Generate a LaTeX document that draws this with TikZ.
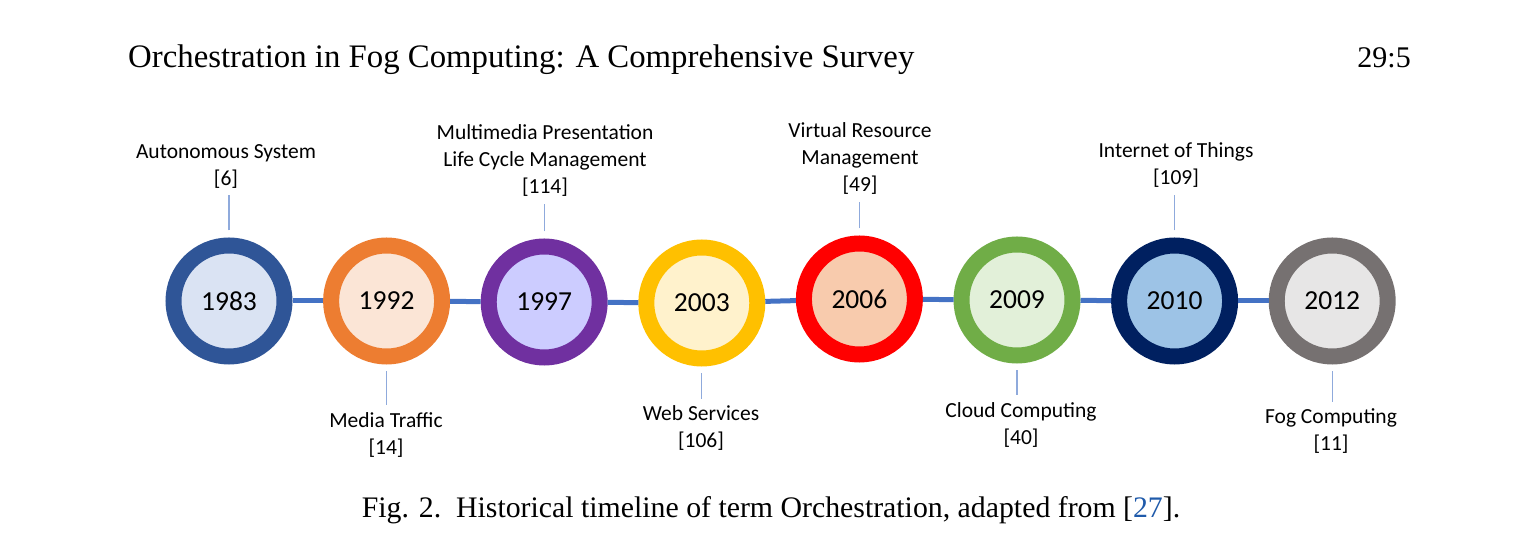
\documentclass[tikz,border=0pt]{standalone}
\usepackage{fontspec}
\setmainfont{Liberation Serif}
\newfontfamily\calfont{Carlito}
\usepackage{xcolor}
\usetikzlibrary{positioning,calc}
\definecolor{ringblue}{RGB}{47,85,151}
\definecolor{discblue}{RGB}{218,227,243}
\definecolor{ringorange}{RGB}{237,125,49}
\definecolor{discorange}{RGB}{251,229,214}
\definecolor{ringpurple}{RGB}{112,48,160}
\definecolor{discpurple}{RGB}{204,204,255}
\definecolor{ringgold}{RGB}{255,192,0}
\definecolor{discgold}{RGB}{255,242,204}
\definecolor{ringred}{RGB}{255,0,0}
\definecolor{discred}{RGB}{248,203,173}
\definecolor{ringgreen}{RGB}{112,173,71}
\definecolor{discgreen}{RGB}{226,240,217}
\definecolor{ringnavy}{RGB}{0,32,96}
\definecolor{discnavy}{RGB}{157,195,230}
\definecolor{ringgray}{RGB}{118,113,113}
\definecolor{discgray}{RGB}{231,230,230}
\definecolor{lineblue}{RGB}{68,114,196}
\definecolor{tickblue}{RGB}{143,170,220}
\definecolor{citeblue}{RGB}{31,90,170}

\tikzset{
  yearring/.style={circle,line width=16pt,minimum size=111pt,inner sep=0pt,font=\calfont\fontsize{27.5}{30}\selectfont},
  termlabel/.style={align=center,inner sep=0pt,font=\calfont\fontsize{21.5}{27}\selectfont},
  timeline/.style={line width=5pt,draw=lineblue},
  tick/.style={line width=1.2pt,draw=tickblue,shorten <=7pt,shorten >=7pt},
}

\begin{document}
\begin{tikzpicture}[x=1pt,y=1pt]
\useasboundingbox (0,0) rectangle (1536,551);
% page header
\node[anchor=base west,inner sep=0pt,font=\fontsize{32.8}{38}\selectfont] (title) at (128,483) {Orchestration in Fog Computing: A Comprehensive Survey};
\node[anchor=base east,inner sep=0pt,font=\fontsize{30}{36}\selectfont] (page) at (1411,483) {29:5};
% year circles
\foreach \i/\yr/\cy/\ring/\disc in {0/1983/250/ringblue/discblue,1/1992/250/ringorange/discorange,2/1997/249/ringpurple/discpurple,3/2003/248/ringgold/discgold,4/2006/252/ringred/discred,5/2009/251/ringgreen/discgreen,6/2010/250/ringnavy/discnavy,7/2012/250/ringgray/discgray}{
  \node[yearring,draw=\ring,fill=\disc] (yr\i) at (229+157.6*\i,\cy) {\yr};
}
\foreach \i in {0,...,6}{\draw[timeline] (yr\i) -- (yr\the\numexpr\i+1\relax);}
% term labels
\foreach \i/\lx/\ly/\txt in {0/226/385/{Autonomous System\\{}[6]},
  1/386/116/{Media Traffic\\{}[14]},
  2/545/390.5/{Multimedia Presentation\\Life Cycle Management\\{}[114]},
  3/701/122.5/{Web Services\\{}[106]},
  4/860/392.5/{Virtual Resource\\Management\\{}[49]},
  5/1021/126/{Cloud Computing\\{}[40]},
  6/1176/385.5/{Internet of Things\\{}[109]},
  7/1331/119.5/{Fog Computing\\{}[11]}}{
  \node[termlabel] (lab\i) at (\lx,\ly) {\txt};
}
\foreach \i in {0,2,4,6}{\draw[tick] (yr\i.north) -- (yr\i.north |- lab\i.south);}
\foreach \i in {1,3,5,7}{\draw[tick] (yr\i.south) -- (yr\i.south |- lab\i.north);}
% caption
\node[anchor=base,inner sep=0pt,font=\fontsize{29.8}{34}\selectfont] (caption) at (771,33) {Fig. 2.\enspace Historical timeline of term Orchestration, adapted from [{\color{citeblue}27}].};
\end{tikzpicture}
\end{document}
